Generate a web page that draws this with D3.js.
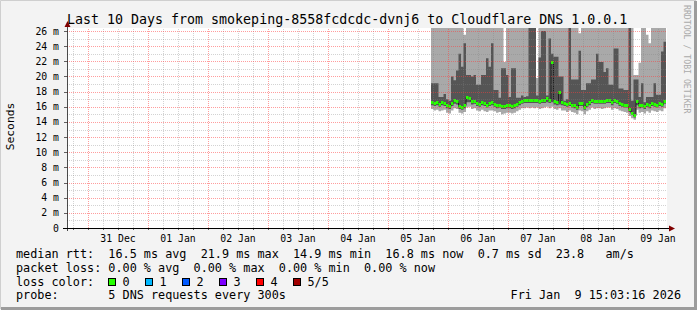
<!DOCTYPE html>
<html><head><meta charset="utf-8">
<script src="https://cdn.jsdelivr.net/npm/d3@7/dist/d3.min.js"></script>
<style>
body{margin:0;background:#f3f3f3;}
svg text{font-family:"DejaVu Sans Mono",monospace;white-space:pre;}
</style></head><body>
<svg id="c" width="697" height="310"></svg>
<script>
// ---------- data ----------
const title = "Last 10 Days from smokeping-8558fcdcdc-dvnj6 to Cloudflare DNS 1.0.0.1";
const yLabel = "Seconds";
const sideLabel = "RRDTOOL / TOBI OETIKER";
const rangeStart = "2025-12-30T15:36";
const rangeEnd = "2026-01-09T15:36";
const sampleStart = "2026-01-05T17:12";
const yTicks = [0,2,4,6,8,10,12,14,16,18,20,22,24,26];
const yMax = 26.4;
const dayLabels = ["31 Dec","01 Jan","02 Jan","03 Jan","04 Jan","05 Jan","06 Jan","07 Jan","08 Jan","09 Jan"];
const dayNoons = ["2025-12-31T12:00","2026-01-01T12:00","2026-01-02T12:00","2026-01-03T12:00","2026-01-04T12:00","2026-01-05T12:00","2026-01-06T12:00","2026-01-07T12:00","2026-01-08T12:00","2026-01-09T12:00"];

// ms values, one per hour
const median = [16.6,16.5,16.6,16.4,16.6,16.5,16.2,16.1,16.5,16.9,
16.7,16.1,16.0,16.2,17.3,17.1,16.7,16.8,16.5,16.4,
16.6,16.5,16.3,16.5,16.6,16.4,16.2,16.3,16.1,16.1,
16.2,16.2,16.1,16.2,16.4,16.6,16.8,16.9,16.9,16.9,
16.9,16.9,16.9,16.8,16.9,16.9,17.1,16.9,21.9,16.7,
16.6,18.0,16.6,16.5,16.4,16.5,16.3,16.2,16.0,16.5,
16.5,16.0,16.4,16.6,16.9,16.8,16.8,16.8,16.8,16.8,
16.9,16.9,16.6,16.9,16.8,16.5,16.4,16.3,16.3,15.7,
15.2,14.9,16.7,16.2,16.3,16.1,16.4,16.2,16.5,16.4,
16.3,16.5,16.4,16.8];
const ping2 = [16.2,16.1,16.2,16.0,16.2,16.1,15.8,15.7,16.1,16.4,
16.3,15.7,15.6,15.8,16.6,16.6,16.3,16.4,16.1,16.0,
16.2,16.1,15.9,16.1,16.2,16.0,15.8,15.9,15.7,15.7,
15.8,15.8,15.7,15.8,16.0,16.2,16.4,16.5,16.5,16.5,
16.5,16.5,16.5,16.4,16.5,16.5,16.6,16.5,16.6,16.3,
16.2,16.3,16.2,16.1,16.0,16.1,15.9,15.8,15.6,16.1,
16.1,15.6,16.0,16.2,16.5,16.4,16.4,16.4,16.4,16.4,
16.5,16.5,16.2,16.5,16.4,16.1,16.0,15.9,15.9,15.3,
14.9,14.6,16.2,15.8,15.9,15.7,16.0,15.8,16.1,16.0,
15.9,16.1,16.0,16.4];
const ping1 = [15.7,15.5,15.6,15.4,15.5,15.6,15.2,15.1,15.5,15.8,
15.7,15.2,15.1,15.3,15.9,16.0,15.7,15.8,15.5,15.4,
15.6,15.4,15.3,15.5,15.5,15.4,15.2,15.3,15.0,15.1,
15.2,15.2,15.1,15.2,15.4,15.6,15.8,15.8,15.9,15.8,
15.9,15.8,15.9,15.7,15.8,15.9,16.0,15.8,16.0,15.7,
15.6,15.8,15.5,15.5,15.3,15.5,15.3,15.2,15.0,15.5,
15.4,15.0,15.4,15.6,15.9,15.7,15.8,15.8,15.7,15.8,
15.9,15.9,15.6,15.8,15.7,15.5,15.4,15.3,15.2,14.8,
14.5,14.3,15.6,15.2,15.3,15.1,15.4,15.2,15.5,15.4,
15.3,15.5,15.4,15.8];
const ping4 = [19.1,19.1,19.1,17.3,17.3,17.7,17.0,16.8,20.0,19.5,
20.8,23.0,21.3,24.4,20.2,20.2,20.0,20.2,18.9,18.9,
20.2,20.2,22.4,21.3,24.4,18.2,18.2,17.2,21.1,21.1,
20.2,17.3,21.1,21.1,17.2,17.2,17.5,17.3,17.4,26.4,
26.4,26.4,17.5,22.5,26.0,26.0,17.5,25.0,23.0,22.6,
22.6,20.0,20.0,16.8,17.0,26.4,19.6,19.6,19.6,23.4,
18.2,18.2,19.1,19.1,19.6,19.6,23.0,21.9,21.9,20.6,
21.1,18.9,18.9,23.7,23.7,18.4,18.4,18.2,18.2,26.4,
16.8,19.6,19.6,17.3,19.1,16.6,17.3,17.3,17.3,19.1,
17.6,17.6,23.3,24.6];
const ping5 = [27,27,27,27,27,27,27,27,27,27,
27,27,27,25.5,27,27,27,27,27,27,
27,27,27,27,27,27,27,27,27,21.9,
27,27,27,27,27,27,27,27,27,27,
27,27,19.8,27,27,27,27,27,27,27,
27,27,27,27,27,27,27,27,27,25.7,
27,27,27,27,27,27,27,27,27,27,
27,27,27,27,27,27,27,27,27,27,
27,20.2,20.2,21.8,27,27,25.5,24.4,27,27,
27,27,27,27];
const lossIdx = new Array(94).fill(0);

const legendLines = [
 "median rtt:  16.5 ms avg  21.9 ms max  14.9 ms min  16.8 ms now  0.7 ms sd  23.8   am/s",
 "packet loss: 0.00 % avg  0.00 % max  0.00 % min  0.00 % now"
];
const lossLabels = ["0","1","2","3","4","5/5"];
const lossColors = ["#26ff00","#00b8ff","#0059ff","#7e00ff","#ff0000","#a10000"];
const probeText = "probe:       5 DNS requests every 300s";
const stamp = "Fri Jan  9 15:03:16 2026";

// ---------- drawing ----------
const parse = d3.utcParse("%Y-%m-%dT%H:%M");
const svg = d3.select("#c");
const L = 67, R = 667, T = 28, B = 228;
const x = d3.scaleUtc().domain([parse(rangeStart), parse(rangeEnd)]).range([L, R]);
const y = d3.scaleLinear().domain([0, yMax]).range([B, T]);

// frame
svg.append("rect").attr("x",0).attr("y",0).attr("width",697).attr("height",310).attr("fill","#f3f3f3");
svg.append("path").attr("d","M0.5,309 V0.5 H696").attr("stroke","#cfcfcf").attr("fill","none");
svg.append("path").attr("d","M1,308.5 H695.5 V1").attr("stroke","#9c9c9c").attr("stroke-width",3).attr("fill","none");
svg.append("rect").attr("x",L).attr("y",T).attr("width",R-L).attr("height",B-T).attr("fill","#fff");

svg.append("clipPath").attr("id","pc").append("rect").attr("x",L).attr("y",T).attr("width",R-L).attr("height",B-T);

const t0 = parse(sampleStart);
const rows = median.map((m,i)=>({t:d3.utcHour.offset(t0,i), m, p1:ping1[i], p2:ping2[i], p4:ping4[i], p5:ping5[i], loss:lossIdx[i]}));
const ext = rows.concat([{...rows[rows.length-1], t:d3.utcHour.offset(t0,rows.length)}]);

const g = svg.append("g").attr("clip-path","url(#pc)");
const areaOuter = d3.area().curve(d3.curveStepAfter).x(d=>x(d.t)).y0(d=>y(d.p1)).y1(d=>y(d.p5));
const areaInner = d3.area().curve(d3.curveStepAfter).x(d=>x(d.t)).y0(d=>y(d.p2)).y1(d=>y(d.p4));
g.append("path").datum(ext).attr("d",areaOuter).attr("fill","#a9a9a9");
g.append("path").datum(ext).attr("d",areaInner).attr("fill","#555555");
const mline = d3.line().curve(d3.curveStepAfter).x(d=>x(d.t)).y(d=>Math.round(y(d.m))+0.5);
g.append("path").datum(ext).attr("d",mline).attr("fill","none").attr("stroke","#202020").attr("stroke-width",1);
g.selectAll("rect.med").data(rows).join("rect").attr("class","med")
 .attr("x",d=>x(d.t)).attr("width",d=>x(d3.utcHour.offset(d.t,1))-x(d.t))
 .attr("y",d=>Math.round(y(d.m))-1).attr("height",3).attr("fill",d=>lossColors[d.loss]);

// grid on top
const grid = svg.append("g");
const minorX = d3.utcHour.every(6).range(parse(rangeStart), parse(rangeEnd)).filter(d=>d.getUTCHours()!==0);
const majorX = d3.utcDay.range(parse(rangeStart), parse(rangeEnd));
const minorY = d3.range(1, 27, 2);
grid.selectAll("line.mx").data(minorX).join("line").attr("x1",d=>Math.round(x(d))+0.5).attr("x2",d=>Math.round(x(d))+0.5)
 .attr("y1",B).attr("y2",T).attr("stroke","rgba(128,128,128,0.35)").attr("stroke-dasharray","1,1");
grid.selectAll("line.my").data(minorY).join("line").attr("y1",d=>Math.round(y(d))+0.5).attr("y2",d=>Math.round(y(d))+0.5)
 .attr("x1",L).attr("x2",R).attr("stroke","rgba(128,128,128,0.35)").attr("stroke-dasharray","1,1");
grid.selectAll("line.Mx").data(majorX).join("line").attr("x1",d=>Math.round(x(d))+0.5).attr("x2",d=>Math.round(x(d))+0.5)
 .attr("y1",B).attr("y2",T).attr("stroke","rgba(255,60,60,0.5)").attr("stroke-dasharray","1,1");
grid.selectAll("line.My").data(yTicks.filter(v=>v>0)).join("line").attr("y1",d=>Math.round(y(d))+0.5).attr("y2",d=>Math.round(y(d))+0.5)
 .attr("x1",L).attr("x2",R).attr("stroke","rgba(255,60,60,0.5)").attr("stroke-dasharray","1,1");

// axes
const ax = svg.append("g");
ax.append("line").attr("x1",63).attr("x2",671).attr("y1",B+0.5).attr("y2",B+0.5).attr("stroke","#000");
ax.append("line").attr("x1",L+0.5).attr("x2",L+0.5).attr("y1",B+3).attr("y2",24).attr("stroke","#000").attr("stroke-opacity",0.7);
ax.append("path").attr("d",`M${L-2.5},27 L${L+3.5},27 L${L+0.5},21 Z`).attr("fill","#800000");
ax.append("path").attr("d",`M669,${B-2.5} L669,${B+3.5} L675,${B+0.5} Z`).attr("fill","#800000");
ax.selectAll("line.tx").data(minorX.concat(majorX)).join("line").attr("x1",d=>Math.round(x(d))+0.5).attr("x2",d=>Math.round(x(d))+0.5)
 .attr("y1",B).attr("y2",B+2).attr("stroke","#000").attr("stroke-opacity",0.6);
ax.selectAll("line.ty").data(yTicks).join("line").attr("y1",d=>Math.round(y(d))+0.5).attr("y2",d=>Math.round(y(d))+0.5)
 .attr("x1",L-3).attr("x2",L).attr("stroke","#000").attr("stroke-opacity",0.6);

svg.selectAll("text.yl").data(yTicks).join("text").attr("class","yl")
 .attr("x",59).attr("y",d=>y(d)+3.5).attr("text-anchor","end").attr("font-size","9.8px").attr("fill","#000")
 .text(d=>d===0?"0":d+" m");
svg.selectAll("text.xl").data(dayLabels).join("text").attr("class","xl")
 .attr("x",(d,i)=>x(parse(dayNoons[i]))).attr("y",241.5).attr("text-anchor","middle").attr("font-size","9.8px").attr("fill","#000")
 .text(d=>d);

// titles
svg.append("text").attr("x",67).attr("y",24).attr("font-size","13.3px").attr("fill","#000").text(title);
svg.append("text").attr("transform","translate(14,126.5) rotate(-90)").attr("text-anchor","middle").attr("font-size","11.3px").attr("fill","#000").text(yLabel);
svg.append("text").attr("transform","translate(684,5) rotate(90)").attr("text-anchor","start").attr("font-size","8.2px").attr("fill","#aaaaaa").text(sideLabel);

// legend
const lg = svg.append("g").attr("font-size","11.8px").attr("fill","#000");
legendLines.forEach((s,i)=>lg.append("text").attr("x",16).attr("y",258+i*13.8).text(s));
lg.append("text").attr("x",16).attr("y",285.6).text("loss color:");
lossLabels.forEach((s,i)=>{
  lg.append("rect").attr("x",108.5+i*37).attr("y",278.5).attr("width",7).attr("height",7).attr("fill",lossColors[i]).attr("stroke","#000");
  lg.append("text").attr("x",122.5+i*37).attr("y",285.6).text(s);
});
lg.append("text").attr("x",16).attr("y",299.4).text(probeText);
lg.append("text").attr("x",681).attr("y",299.4).attr("text-anchor","end").text(stamp);
</script>
</body></html>
